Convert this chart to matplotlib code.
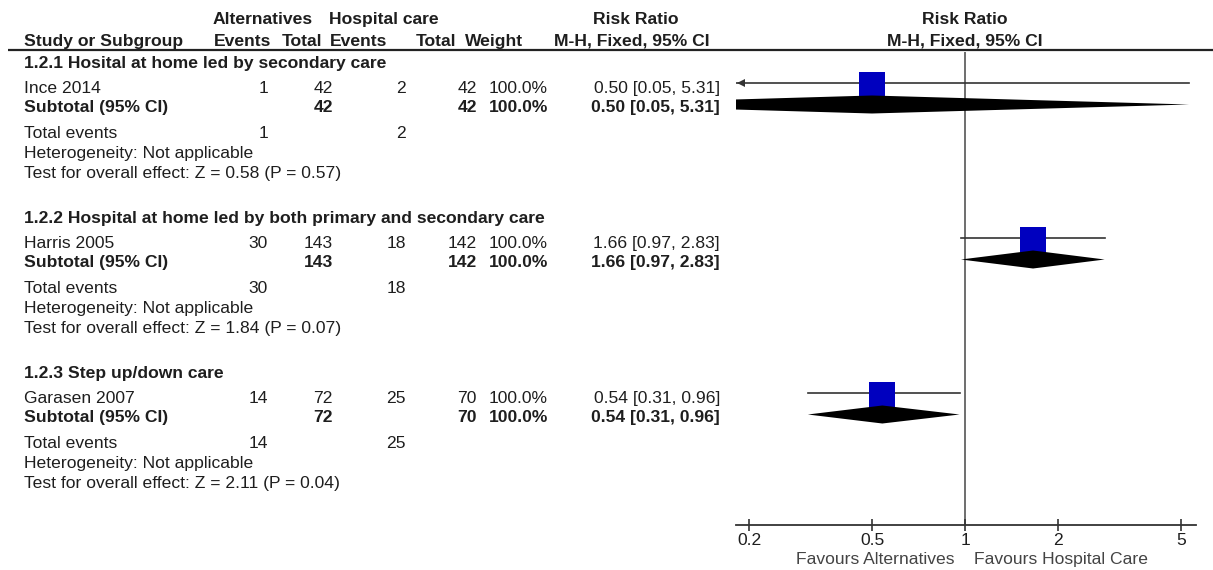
import matplotlib.pyplot as plt
import numpy as np

plt.rcParams['font.family'] = ['Liberation Sans', 'DejaVu Sans']

# subgroup data
groups = ["1.2.1 Hosital at home led by secondary care",
          "1.2.2 Hospital at home led by both primary and secondary care",
          "1.2.3 Step up/down care"]
studies = ["Ince 2014", "Harris 2005", "Garasen 2007"]
alt_events = [1, 30, 14]
alt_total = [42, 143, 72]
hosp_events = [2, 18, 25]
hosp_total = [42, 142, 70]
weights = [100.0, 100.0, 100.0]
rr = [0.50, 1.66, 0.54]
ci_lo = [0.05, 0.97, 0.31]
ci_hi = [5.31, 2.83, 0.96]
z_vals = [0.58, 1.84, 2.11]
p_vals = [0.57, 0.07, 0.04]
ticks = [0.2, 0.5, 1, 2, 5]
tick_labels = ["0.2", "0.5", "1", "2", "5"]

W, H = 1213, 570
FS = 12.6
TXT = '#1e1e1e'

fig = plt.figure(figsize=(W / 100, H / 100), dpi=100)
ax0 = fig.add_axes([0, 0, 1, 1])
ax0.set_xlim(0, W)
ax0.set_ylim(H, 0)
ax0.axis('off')


def txt(x, y, s, ha='left', bold=False, color=TXT):
    # y is the visual middle of the line, shift down to the baseline
    ax0.text(x, y + 6, s, ha=ha, va='baseline', fontsize=FS,
             fontweight='bold' if bold else 'normal', color=color)


# header
txt(213, 18, "Alternatives", bold=True)
txt(329, 18, "Hospital care", bold=True)
txt(636, 18, "Risk Ratio", ha='center', bold=True)
txt(965, 18, "Risk Ratio", ha='center', bold=True)
txt(24, 40, "Study or Subgroup", bold=True)
txt(271, 40, "Events", ha='right', bold=True)
txt(322, 40, "Total", ha='right', bold=True)
txt(387, 40, "Events", ha='right', bold=True)
txt(456, 40, "Total", ha='right', bold=True)
txt(523, 40, "Weight", ha='right', bold=True)
txt(632, 40, "M-H, Fixed, 95% CI", ha='center', bold=True)
txt(965, 40, "M-H, Fixed, 95% CI", ha='center', bold=True)
ax0.plot([8, W], [50, 50], color='#222222', lw=1.6, solid_capstyle='butt')

# forest axes, y in pixel rows
xmin, xmax = 0.1815, 5.59
ax = fig.add_axes([736 / W, (H - 525) / H, (1196 - 736) / W, (525 - 52) / H])
ax.set_xscale('log')
ax.set_xlim(xmin, xmax)
ax.set_ylim(525, 52)
ax.patch.set_alpha(0)
for s in ['top', 'left', 'right']:
    ax.spines[s].set_visible(False)
ax.spines['bottom'].set_color('#333333')
ax.spines['bottom'].set_linewidth(1.3)
ax.set_yticks([])
ax.set_xticks(ticks)
ax.set_xticklabels(tick_labels)
ax.minorticks_off()
ax.tick_params(axis='x', direction='inout', length=9, width=1.2,
               color='#333333', labelsize=FS, labelcolor=TXT, pad=1)
ax.axvline(1, color='#555555', lw=1.2, zorder=1)

top = 62
step = 155
for i in range(len(groups)):
    g = top + i * step
    y_study = g + 25
    y_sub = g + 44
    y_tot = g + 70

    txt(24, g, groups[i], bold=True)
    txt(24, y_study, studies[i])
    txt(268, y_study, str(alt_events[i]), ha='right')
    txt(333, y_study, str(alt_total[i]), ha='right')
    txt(406, y_study, str(hosp_events[i]), ha='right')
    txt(477, y_study, str(hosp_total[i]), ha='right')
    txt(548, y_study, f"{weights[i]:.1f}%", ha='right')
    ci = f"{rr[i]:.2f} [{ci_lo[i]:.2f}, {ci_hi[i]:.2f}]"
    txt(720, y_study, ci, ha='right')

    txt(24, y_sub, "Subtotal (95% CI)", bold=True)
    txt(333, y_sub, str(alt_total[i]), ha='right', bold=True)
    txt(477, y_sub, str(hosp_total[i]), ha='right', bold=True)
    txt(548, y_sub, f"{weights[i]:.1f}%", ha='right', bold=True)
    txt(720, y_sub, ci, ha='right', bold=True)

    txt(24, y_tot, "Total events")
    txt(268, y_tot, str(alt_events[i]), ha='right')
    txt(406, y_tot, str(hosp_events[i]), ha='right')
    txt(24, g + 90, "Heterogeneity: Not applicable")
    txt(24, g + 110, f"Test for overall effect: Z = {z_vals[i]:.2f} (P = {p_vals[i]:.2f})")

    # confidence interval line
    yl = y_study - 4
    lo = max(ci_lo[i], xmin)
    hi = min(ci_hi[i], xmax)
    ax.plot([lo, hi], [yl, yl], color='#333333', lw=1.2, zorder=2)
    if ci_lo[i] < xmin:
        ax.plot(10 ** (np.log10(xmin) + 4.5 / 309), yl, marker='<', ms=6,
                color='#333333', mew=0, zorder=2)
    # study square
    ax.plot(rr[i], yl + 2, marker='s', ms=19.0, color='#0000bf', mew=0, zorder=3)
    # subtotal diamond
    yd = y_sub - 1.5
    ax.fill([ci_lo[i], rr[i], ci_hi[i], rr[i]], [yd, yd - 9, yd, yd + 9],
            color='black', lw=0, zorder=4)

txt(955, 558, "Favours Alternatives", ha='right', color='#444444')
txt(974, 558, "Favours Hospital Care", color='#444444')

fig.savefig('out.png', dpi=100)
